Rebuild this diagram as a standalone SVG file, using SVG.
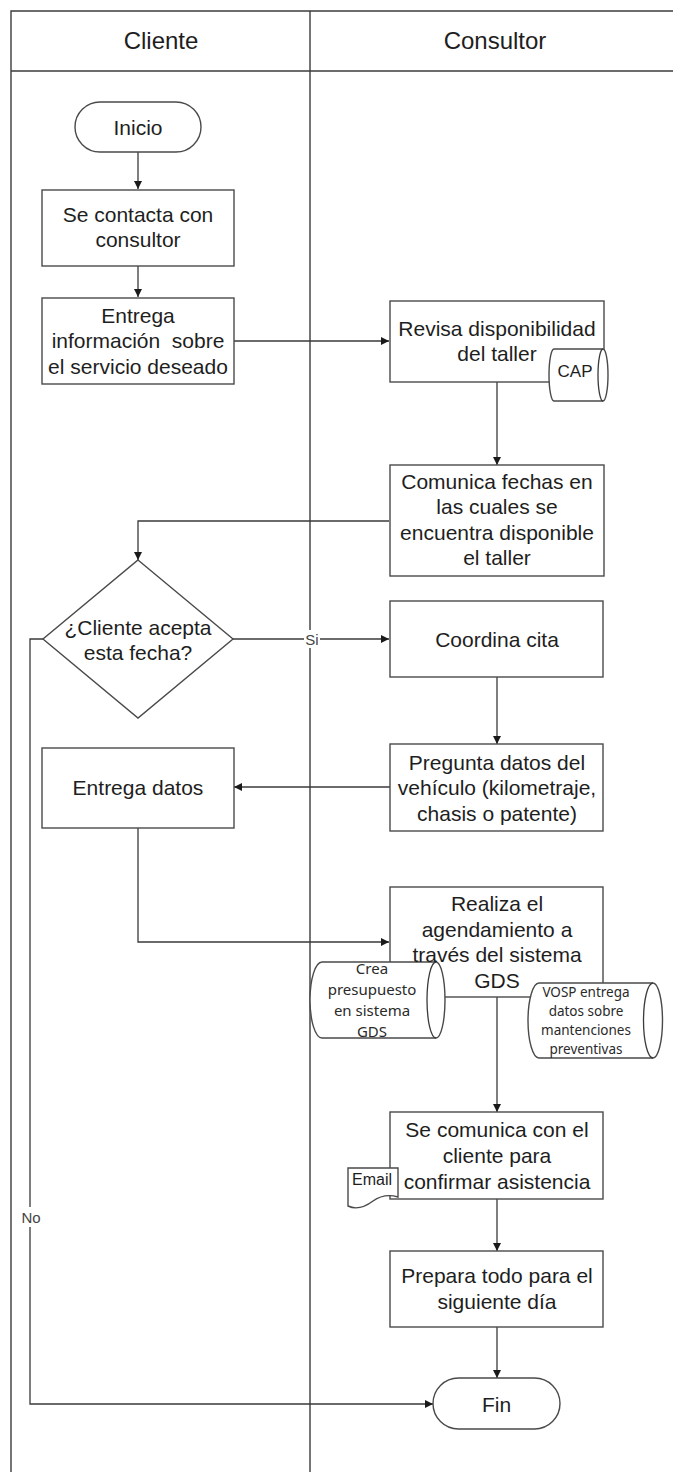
<svg xmlns="http://www.w3.org/2000/svg" width="673" height="1472" viewBox="0 0 673 1472">
<style>
.bg{fill:#fff}
.lane{fill:none;stroke:#3c3c3c;stroke-width:1.4}
.box{fill:#fff;stroke:#4a4a4a;stroke-width:1.4}
.ln{fill:none;stroke:#3a3a3a;stroke-width:1.3}
.t{font-family:"Liberation Sans",Arial,sans-serif;font-size:21px;fill:#1e1e1e;text-anchor:middle}
.h{font-family:"Liberation Sans",Arial,sans-serif;font-size:24px;fill:#1e1e1e;text-anchor:middle}
.s{font-family:"Noto Sans","Open Sans",sans-serif;font-size:15px;fill:#2a2a2a;text-anchor:middle}
.v{font-family:"Noto Sans","Open Sans",sans-serif;font-size:13.5px;fill:#2a2a2a;text-anchor:middle}
.lbl{font-family:"Liberation Sans",Arial,sans-serif;font-size:15px;fill:#444;text-anchor:middle}
</style>
<defs>
<marker id="ah" viewBox="0 0 10 10" refX="10" refY="5" markerWidth="8" markerHeight="8" markerUnits="userSpaceOnUse" orient="auto">
<path d="M0,0 L10,5 L0,10 Z" fill="#1a1a1a"/>
</marker>
</defs>
<rect class="bg" x="0" y="0" width="673" height="1472"/>
<g id="lanes">
<path class="lane" d="M11,1472 V11 H673 M11,71 H673 M310,11 V1472"/>
<text class="h" x="161" y="48.5">Cliente</text>
<text class="h" x="495" y="48.5">Consultor</text>
</g>
<g id="connectors">
<path class="ln" d="M138,152 V189" marker-end="url(#ah)"/>
<path class="ln" d="M138,266 V297" marker-end="url(#ah)"/>
<path class="ln" d="M234,341 H389" marker-end="url(#ah)"/>
<path class="ln" d="M497,382 V465" marker-end="url(#ah)"/>
<path class="ln" d="M389,521 H138 V560" marker-end="url(#ah)"/>
<path class="ln" d="M233,639 H389" marker-end="url(#ah)"/>
<path class="ln" d="M497,677 V744" marker-end="url(#ah)"/>
<path class="ln" d="M390,787 H234" marker-end="url(#ah)"/>
<path class="ln" d="M138,828 V942 H389" marker-end="url(#ah)"/>
<path class="ln" d="M497,997 V1112" marker-end="url(#ah)"/>
<path class="ln" d="M497,1199 V1251" marker-end="url(#ah)"/>
<path class="ln" d="M497,1327 V1378" marker-end="url(#ah)"/>
<path class="ln" d="M43,639 H30 V1404 H433" marker-end="url(#ah)"/>
<rect x="304" y="630" width="16" height="18" fill="#fff"/>
<text class="lbl" x="312" y="644.5">Si</text>
<rect x="21" y="1207" width="20" height="20" fill="#fff"/>
<text class="lbl" x="31" y="1222.5">No</text>
</g>
<g id="inicio">
<rect class="box" x="75" y="102" width="126" height="50" rx="25" ry="25"/>
<text class="t" x="138" y="134.5">Inicio</text>
</g>
<g id="contacta">
<rect class="box" x="42" y="190" width="192" height="76"/>
<text class="t" x="138" y="221.5">Se contacta con</text>
<text class="t" x="138" y="246.5">consultor</text>
</g>
<g id="entrega-info">
<rect class="box" x="42" y="298" width="192" height="86"/>
<text class="t" x="138" y="322.5">Entrega</text>
<text class="t" x="138" y="347.5" xml:space="preserve">información  sobre</text>
<text class="t" x="138" y="373.5">el servicio deseado</text>
</g>
<g id="revisa">
<rect class="box" x="390" y="301" width="214" height="81"/>
<text class="t" x="497" y="335.5">Revisa disponibilidad</text>
<text class="t" x="497" y="360.5">del taller</text>
</g>
<g id="cap">
<path class="box" d="M554,349 H603 A5,26 0 0 1 603,401 H554 A5,26 0 0 1 554,349 Z"/>
<path class="ln" d="M603,349 A5,26 0 0 0 603,401"/>
<text class="t" x="575" y="377" style="font-size:17px">CAP</text>
</g>
<g id="comunica">
<rect class="box" x="390" y="465" width="214" height="111"/>
<text class="t" x="497" y="488.5">Comunica fechas en</text>
<text class="t" x="497" y="514">las cuales se</text>
<text class="t" x="497" y="539.5">encuentra disponible</text>
<text class="t" x="497" y="565">el taller</text>
</g>
<g id="decision">
<path class="box" d="M138,560 L233,639 L138,718 L43,639 Z"/>
<text class="t" x="138" y="634.5">¿Cliente acepta</text>
<text class="t" x="138" y="659.5">esta fecha?</text>
</g>
<g id="coordina">
<rect class="box" x="390" y="601" width="213" height="76"/>
<text class="t" x="497" y="646.5">Coordina cita</text>
</g>
<g id="pregunta">
<rect class="box" x="390" y="744" width="213" height="87"/>
<text class="t" x="497" y="769.5">Pregunta datos del</text>
<text class="t" x="497" y="795">vehículo (kilometraje,</text>
<text class="t" x="497" y="821">chasis o patente)</text>
</g>
<g id="entrega-datos">
<rect class="box" x="42" y="748" width="192" height="80"/>
<text class="t" x="138" y="794.5">Entrega datos</text>
</g>
<g id="realiza">
<rect class="box" x="390" y="887" width="213" height="110"/>
</g>
<g id="crea">
<path class="box" d="M322,962 H436 A9,38 0 0 1 436,1038 H322 A12,38 0 0 1 322,962 Z"/>
<path class="ln" d="M436,962 A9,38 0 0 0 436,1038"/>
<text class="s" x="372" y="973.5">Crea</text>
<text class="s" x="372" y="994.5">presupuesto</text>
<text class="s" x="372" y="1016">en sistema</text>
<text class="s" x="372" y="1036.5">GDS</text>
</g>
<g id="vosp">
<path class="box" d="M539,983 H653 A9.5,37.5 0 0 1 653,1058 H539 A11,37.5 0 0 1 539,983 Z"/>
<path class="ln" d="M653,983 A9.5,37.5 0 0 0 653,1058"/>
<text class="v" x="586" y="997">VOSP entrega</text>
<text class="v" x="586" y="1016">datos sobre</text>
<text class="v" x="586" y="1035">mantenciones</text>
<text class="v" x="586" y="1054">preventivas</text>
</g>
<g id="realiza-text">
<text class="t" x="497" y="911">Realiza el</text>
<text class="t" x="497" y="936.5">agendamiento a</text>
<text class="t" x="497" y="962">través del sistema</text>
<text class="t" x="497" y="987.5">GDS</text>
</g>
<g id="se-comunica">
<rect class="box" x="390" y="1112" width="213" height="87"/>
<text class="t" x="497" y="1136.5">Se comunica con el</text>
<text class="t" x="497" y="1162.5">cliente para</text>
<text class="t" x="497" y="1188.5">confirmar asistencia</text>
</g>
<g id="email">
<path class="box" d="M348,1168 H398 V1197 C388,1194 380,1196 373,1201 C365,1207 356,1210 348,1206 Z"/>
<text class="t" x="372" y="1185" style="font-size:16px">Email</text>
</g>
<g id="prepara">
<rect class="box" x="390" y="1251" width="213" height="76"/>
<text class="t" x="497" y="1282.5">Prepara todo para el</text>
<text class="t" x="497" y="1308.5">siguiente día</text>
</g>
<g id="fin">
<rect class="box" x="433" y="1378" width="127" height="51" rx="25.5" ry="25.5"/>
<text class="t" x="496.5" y="1411.5">Fin</text>
</g>
</svg>
